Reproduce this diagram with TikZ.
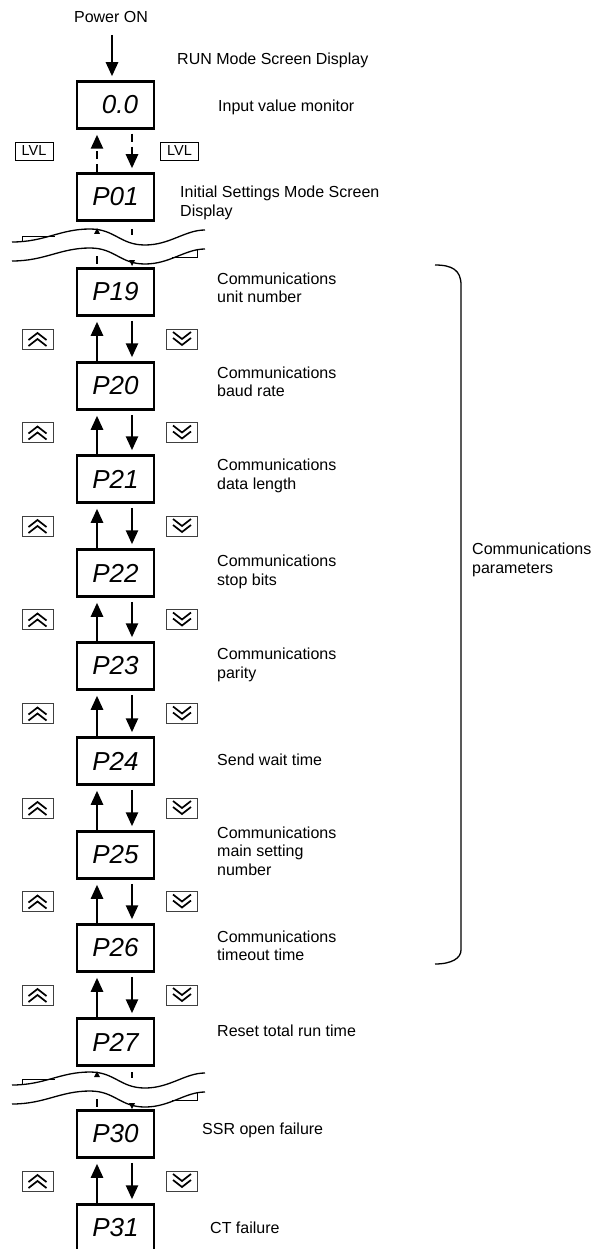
\documentclass[tikz,border=0pt]{standalone}
\usepackage{fontspec}
\setmainfont{Liberation Sans}
\usetikzlibrary{arrows.meta,calc}
\newdimen\unitsize
\setlength{\unitsize}{1pt}

\begin{document}
\begin{tikzpicture}[x=\unitsize,y=-\unitsize,
  disp/.style={draw,line width=2.5pt,minimum width=77pt,minimum height=47pt,inner sep=0pt,
    font=\fontsize{26}{26}\selectfont\itshape},
  lbl/.style={anchor=west,align=left,inner sep=0pt,font=\fontsize{16}{18.5}\selectfont},
  keybox/.style={draw=black!75,line width=0.8pt,minimum width=31pt,minimum height=20pt,inner sep=0pt},
  lvlbox/.style={draw,line width=0.8pt,minimum width=38pt,minimum height=18pt,inner sep=0pt,
    font=\fontsize{14.5}{14.5}\selectfont},
  flow/.style={line width=2.5pt,-{Triangle[length=14pt,width=12pt]}},
  chev/.style={line width=1.7pt,line join=miter}]
\useasboundingbox (0,0) rectangle (613,1249);

% power on and run mode
\node[lbl,anchor=center] (power) at (111,17) {Power ON};
\node[disp,text width=45pt,align=right] (run) at (115.5,105) {0.0};
\draw[flow,shorten <=12pt,shorten >=4pt] ([xshift=1pt]power.south) -- ([xshift=1pt]power.south |- run.north);

% displays
\foreach \dname/\dy/\dtext in {p01/197/P01,p19/292/P19,p20/386/P20,p21/479/P21,p22/573/P22,
  p23/666/P23,p24/761/P24,p25/855/P25,p26/948/P26,p27/1042/P27,p30/1134/P30,p31/1228/P31}{
  \node[disp] (\dname) at (115.5,\dy) {\dtext};
}

% level key
\draw[flow,dash pattern=on 8pt off 5pt,shorten >=5pt] ([xshift=-18.5pt]p01.north) -- ([xshift=-18.5pt]run.south);
\draw[flow,dash pattern=on 8pt off 5pt,shorten <=4pt,shorten >=4pt] ([xshift=16.5pt]run.south) -- ([xshift=16.5pt]p01.north);
\node[lvlbox] (lvlup) at (34,151) {LVL};
\node[lvlbox] (lvldn) at (179.5,151) {LVL};

% up and down keys
\foreach \a/\b in {p19/p20,p20/p21,p21/p22,p22/p23,p23/p24,p24/p25,p25/p26,p26/p27,p30/p31}{
  \draw[flow,shorten >=5pt] ([xshift=-18.5pt]\b.north) -- ([xshift=-18.5pt]\a.south);
  \draw[flow,shorten <=4pt,shorten >=4pt] ([xshift=16.5pt]\a.south) -- ([xshift=16.5pt]\b.north);
  \coordinate (m\a) at ($(\a.south)!0.5!(\b.north)$);
  \node[keybox] (up\a) at ([xshift=-78pt]m\a) {};
  \node[keybox] (dn\a) at ([xshift=66.5pt]m\a) {};
  \draw[chev] ([shift={(-9,1)}]up\a.center) -- ([shift={(0,-6)}]up\a.center) -- ([shift={(9,1)}]up\a.center);
  \draw[chev] ([shift={(-9,7)}]up\a.center) -- ([shift={(0,0)}]up\a.center) -- ([shift={(9,7)}]up\a.center);
  \draw[chev] ([shift={(-9,-1)}]dn\a.center) -- ([shift={(0,6)}]dn\a.center) -- ([shift={(9,-1)}]dn\a.center);
  \draw[chev] ([shift={(-9,-7)}]dn\a.center) -- ([shift={(0,0)}]dn\a.center) -- ([shift={(9,-7)}]dn\a.center);
}

% omitted parts
\foreach \b in {222,1065}{
  \foreach \s in {0,19}{
    \draw[line width=1.3pt] (12,\b+20+\s) .. controls (45,\b+20+\s) and (60,\b+7+\s) .. (90,\b+7+\s)
      .. controls (115,\b+7+\s) and (120,\b+23+\s) .. (145,\b+23+\s)
      .. controls (170,\b+23+\s) and (185,\b+8+\s) .. (205,\b+8+\s);
  }
  \draw[line width=0.8pt] (22,\b+20) -- (22,\b+14) -- (55,\b+14);
  \draw[line width=0.8pt] (197,\b+27) -- (197,\b+35) -- (172,\b+35);
  \fill (94,\b+12) -- (97,\b+6) -- (100,\b+12) -- cycle;
  \draw[line width=2.5pt] (132,\b+7) -- (132,\b+13);
  \draw[line width=2.5pt] (97,\b+34) -- (97,\b+42);
  \fill (129,\b+38) -- (132,\b+44) -- (135,\b+38) -- cycle;
}

% labels
\foreach \lname/\lx/\ly/\ltext in {lrun/177/60/{RUN Mode Screen Display},
  lmon/218/107/{Input value monitor},
  linit/180/203/{Initial Settings Mode Screen\\Display},
  l19/217/288/{Communications\\unit number},
  l20/217/382/{Communications\\baud rate},
  l21/217/476/{Communications\\data length},
  l22/217/572/{Communications\\stop bits},
  l23/217/665/{Communications\\parity},
  l24/217/760/{Send wait time},
  l25/217/851/{Communications\\main setting\\number},
  l26/217/946/{Communications\\timeout time},
  l27/217/1031/{Reset total run time},
  l30/202/1130/{SSR open failure},
  l31/210/1228/{CT failure},
  lcomm/472/560/{Communications\\parameters}}{
  \node[lbl] (\lname) at (\lx,\ly) {\ltext};
}

% bracket
\draw[line width=1.3pt] (435,265) .. controls (452,265) and (461,270) .. (461,285) -- (461,950)
  .. controls (461,958) and (452,964) .. (435,964);
\end{tikzpicture}
\end{document}
